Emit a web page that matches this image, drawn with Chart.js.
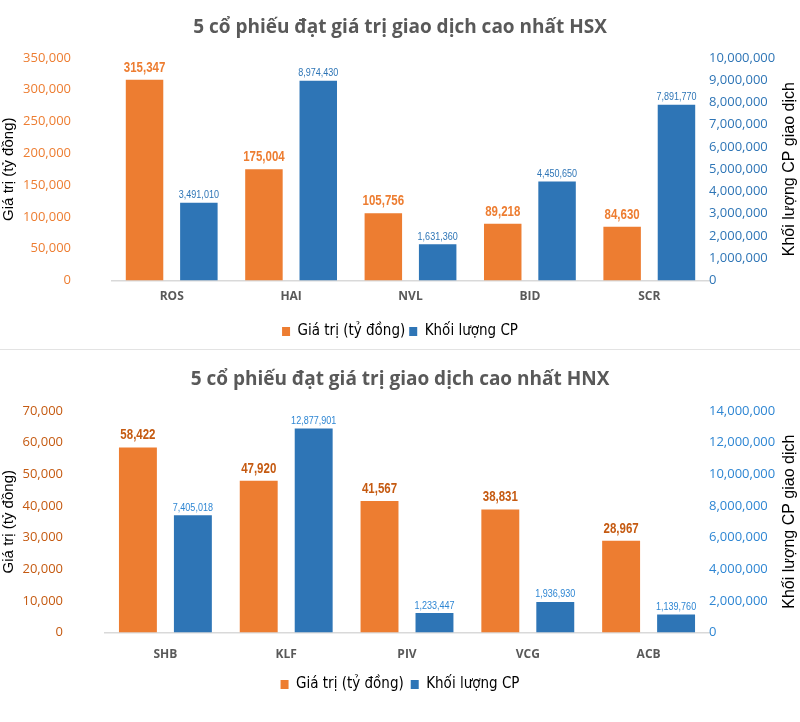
<!DOCTYPE html>
<html>
<head>
<meta charset="utf-8">
<script src="https://cdn.jsdelivr.net/npm/chart.js@4/dist/chart.umd.min.js"></script>
<style>
  html, body { margin: 0; padding: 0; background: #fff; }
  #wrap { width: 800px; height: 722px; overflow: hidden; }
  canvas { display: block; }
  .sep { height: 1px; background: #e3e3e3; width: 800px; }
</style>
</head>
<body>
<div id="wrap">
  <canvas id="hsx" width="800" height="349"></canvas>
  <div class="sep"></div>
  <canvas id="hnx" width="800" height="372"></canvas>
</div>
<script>
// HSX
const hsxCodes = ['ROS', 'HAI', 'NVL', 'BID', 'SCR'];
const hsxValue = [315347, 175004, 105756, 89218, 84630];
const hsxVolume = [3491010, 8974430, 1631360, 4450650, 7891770];
// HNX
const hnxCodes = ['SHB', 'KLF', 'PIV', 'VCG', 'ACB'];
const hnxValue = [58422, 47920, 41567, 38831, 28967];
const hnxVolume = [7405018, 12877901, 1233447, 1936930, 1139760];

const seriesNames = ['Giá trị (tỷ đồng)', 'Khối lượng CP'];
const leftTitle = 'Giá trị (tỷ đồng)';
const rightTitle = 'Khối lượng CP giao dịch';

const ORANGE = '#ED7D31';
const BLUE = '#2E75B6';
const SANS = "'Liberation Sans', Arial, sans-serif";
const fmt = v => v.toLocaleString('en-US');

// values above the bars (narrowed like Arial Narrow) + right axis title reading bottom to top
const extras = {
  id: 'extras',
  afterDatasetsDraw(chart, args, opts) {
    const ctx = chart.ctx;
    chart.data.datasets.forEach((ds, i) => {
      const st = opts.labels[i];
      chart.getDatasetMeta(i).data.forEach((bar, j) => {
        ctx.save();
        ctx.translate(bar.x, bar.y - st.offset);
        ctx.scale(0.82, 1);
        ctx.font = st.font;
        ctx.fillStyle = st.color;
        ctx.textAlign = 'center';
        ctx.textBaseline = 'bottom';
        ctx.fillText(fmt(ds.data[j]), 0, 0);
        ctx.restore();
      });
    });
    const a = chart.chartArea;
    ctx.save();
    ctx.translate(opts.titleX, (a.top + a.bottom) / 2);
    ctx.rotate(-Math.PI / 2);
    ctx.font = '16px ' + SANS;
    ctx.fillStyle = '#000';
    ctx.textAlign = 'center';
    ctx.textBaseline = 'middle';
    ctx.fillText(rightTitle, 0, 0);
    ctx.restore();
  }
};

function makeChart(id, o) {
  return new Chart(document.getElementById(id), {
    type: 'bar',
    data: {
      labels: o.codes,
      datasets: [
        { label: seriesNames[0], data: o.value, backgroundColor: ORANGE, yAxisID: 'y',
          categoryPercentage: 0.91, barPercentage: 0.69 },
        { label: seriesNames[1], data: o.volume, backgroundColor: BLUE, yAxisID: 'y1',
          categoryPercentage: 0.91, barPercentage: 0.69 }
      ]
    },
    options: {
      responsive: false,
      animation: false,
      layout: { padding: { top: 0, bottom: o.padBottom, left: 0, right: 0 } },
      plugins: {
        title: {
          display: true,
          text: o.title,
          color: '#595959',
          font: { family: "'Open Sans', sans-serif", size: 19, weight: 'bold' },
          padding: { top: o.titleTop, bottom: o.titleBottom }
        },
        legend: {
          position: 'bottom',
          labels: {
            color: '#000',
            font: { family: "'DejaVu Sans Condensed', sans-serif", size: 15 },
            boxWidth: 8, boxHeight: 9, padding: o.legendPad
          }
        },
        tooltip: { enabled: false },
        extras: {
          titleX: 790,
          labels: [
            { font: 'bold 14px ' + SANS, color: o.orangeLabel, offset: 5 },
            { font: '11px ' + SANS, color: o.blueLabel, offset: 2 }
          ]
        }
      },
      scales: {
        x: {
          grid: { display: false, drawTicks: false },
          border: { display: true, color: '#d9d9d9', width: 1.5 },
          ticks: { color: '#595959', font: { family: "'Open Sans', sans-serif", size: 12, weight: 'bold' }, padding: o.xPad },
          afterFit: s => { s.height = o.xHeight; }
        },
        y: {
          position: 'left',
          min: 0, max: o.leftMax,
          ticks: { stepSize: o.leftStep, color: o.leftTick, padding: o.leftPad,
                   font: { family: "'Open Sans', sans-serif", size: 13 }, callback: v => fmt(v) },
          grid: { display: false, drawTicks: false },
          border: { display: false },
          title: { display: true, text: leftTitle, color: '#000', padding: 0,
                   font: { family: SANS, size: 15 } },
          afterFit: s => { s.width = o.left; }
        },
        y1: {
          position: 'right',
          min: 0, max: o.rightMax,
          ticks: { stepSize: o.rightStep, color: o.rightTick, padding: 0,
                   font: { family: "'Open Sans', sans-serif", size: 13 }, callback: v => fmt(v) },
          grid: { display: false, drawTicks: false },
          border: { display: false },
          afterFit: s => { s.width = 800 - o.right; }
        }
      }
    },
    plugins: [extras]
  });
}

makeChart('hsx', {
  codes: hsxCodes, value: hsxValue, volume: hsxVolume,
  title: '5 cổ phiếu đạt giá trị giao dịch cao nhất HSX',
  titleTop: 16, titleBottom: 19, padBottom: 0, xHeight: 39.4, xPad: 9, legendPad: 4,
  left: 112, right: 709, leftPad: 41,
  leftMax: 350000, leftStep: 50000, rightMax: 10000000, rightStep: 1000000,
  leftTick: ORANGE, rightTick: BLUE, orangeLabel: ORANGE, blueLabel: BLUE
});

makeChart('hnx', {
  codes: hnxCodes, value: hnxValue, volume: hnxVolume,
  title: '5 cổ phiếu đạt giá trị giao dịch cao nhất HNX',
  titleTop: 18, titleBottom: 20, padBottom: 20, xHeight: 37.4, xPad: 15, legendPad: 7,
  left: 105, right: 709, leftPad: 42,
  leftMax: 70000, leftStep: 10000, rightMax: 14000000, rightStep: 2000000,
  leftTick: '#C55A11', rightTick: '#2E86D3', orangeLabel: '#C55A11', blueLabel: '#2E86D3'
});
</script>
</body>
</html>
